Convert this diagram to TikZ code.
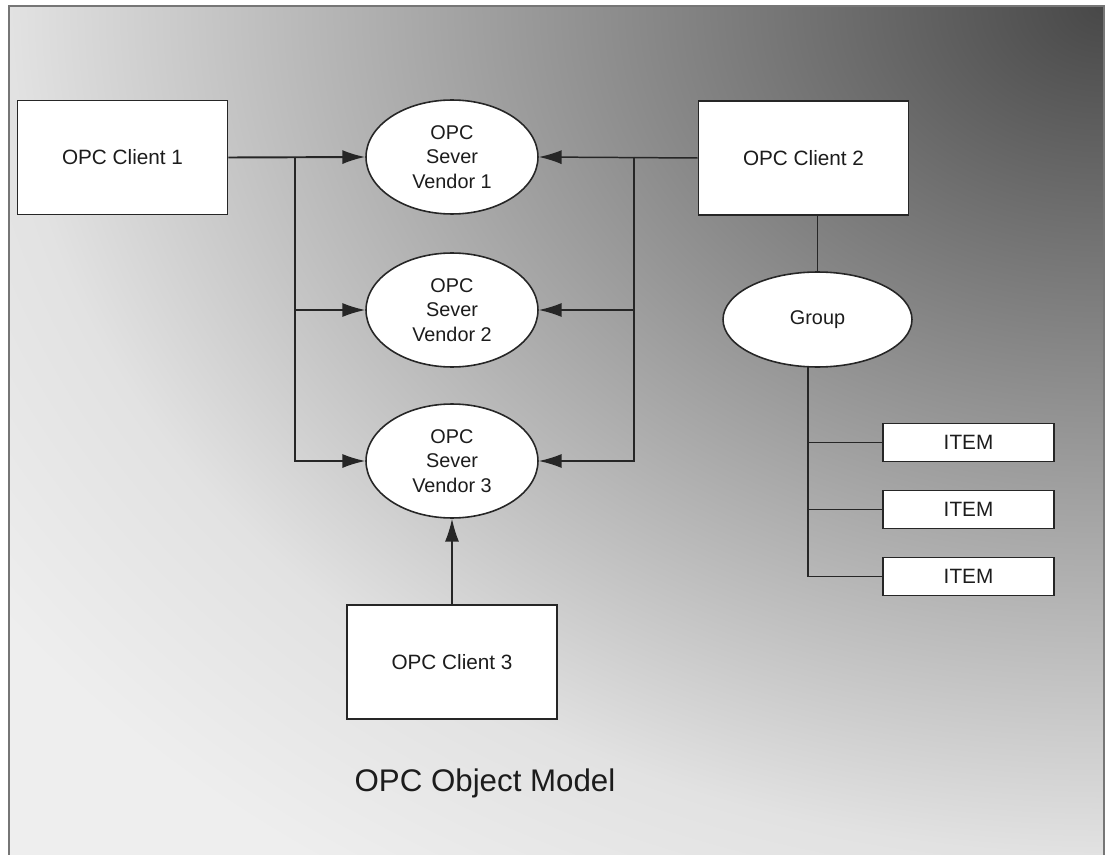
\documentclass[tikz,border=0pt]{standalone}
\usepackage{fontspec}
\setmainfont{Liberation Sans}
\usetikzlibrary{arrows.meta, shapes.geometric}
\definecolor{bgdark}{RGB}{72, 72, 72}
\definecolor{bglight}{RGB}{226, 226, 226}
\definecolor{bgpale}{RGB}{238, 238, 238}
\definecolor{framegray}{RGB}{118, 118, 118}
\definecolor{linegray}{RGB}{38, 38, 38}
\definecolor{textgray}{RGB}{28, 28, 28}
\pgfdeclareradialshading{opcbg}{\pgfpoint{0bp}{0bp}}{color(0bp)=(bgdark);
  color(12.5bp)=(bglight); color(15.5bp)=(bgpale); color(50bp)=(bgpale)}
\tikzset{
  clientbox/.style={draw=linegray, line width=1pt, fill=white,
    minimum width=4.2cm, minimum height=2.28cm, text=textgray,
    font=\fontsize{11.8}{14}\selectfont},
  serverell/.style={ellipse, draw=linegray, line width=0.9pt, fill=white,
    inner sep=0pt, minimum width=3.44cm, minimum height=2.28cm,
    align=center, text=textgray, font=\fontsize{11.3}{13.9}\selectfont},
  groupell/.style={serverell, minimum width=3.78cm, minimum height=1.9cm},
  itembox/.style={draw=linegray, line width=1pt, fill=white,
    minimum width=3.42cm, minimum height=0.76cm, inner sep=0pt,
    text=textgray, font=\fontsize{11.8}{14}\selectfont},
  link/.style={draw=linegray, line width=0.85pt},
  arrowlink/.style={link, -{Latex[length=13pt, width=8pt]}}
}

\begin{document}
\begin{tikzpicture}[x=0.02cm, y=-0.02cm]
  \useasboundingbox (0,0) rectangle (1110,855);
  \fill[white] (0,0) rectangle (1110,855);
  % shaded background, dark in the upper right corner
  \begin{scope}
    \clip (9,6) rectangle (1104,855);
    \shade[shading=opcbg] (1104,6) ellipse [x radius=43.8cm, y radius=33.96cm];
  \end{scope}
  \draw[framegray, line width=1.4pt] (9,855) -- (9,6) -- (1104,6) -- (1104,855);

  % clients
  \node[clientbox] (client1) at (122.5,157.5) {OPC Client 1};
  \node[clientbox] (client2) at (803.5,158) {OPC Client 2};
  \node[clientbox] (client3) at (452,662) {OPC Client 3};
  % servers
  \node[serverell] (sv1) at (452,157) {OPC\\Sever\\Vendor 1};
  \node[serverell] (sv2) at (452,310) {OPC\\Sever\\Vendor 2};
  \node[serverell] (sv3) at (452,461) {OPC\\Sever\\Vendor 3};
  % group and items
  \node[groupell] (group) at (817.5,319.5) {Group};
  \node[itembox] (item1) at (968.5,442.5) {ITEM};
  \node[itembox] (item2) at (968.5,509.5) {ITEM};
  \node[itembox] (item3) at (968.5,576.5) {ITEM};

  % client 1 to the servers
  \coordinate (lbus) at (295,157);
  \draw[arrowlink, line width=1.1pt] (client1.east) -- (sv1.west);
  \draw[arrowlink] (lbus) |- (sv3.west);
  \draw[arrowlink] (lbus |- sv2.west) -- (sv2.west);
  % client 2 to the servers
  \coordinate (rbus) at (634,157);
  \draw[arrowlink] (client2.west) -- (sv1.east);
  \draw[arrowlink] (rbus) |- (sv3.east);
  \draw[arrowlink] (rbus |- sv2.east) -- (sv2.east);
  % client 3
  \draw[arrowlink] (client3.north) -- (sv3.south);
  % group tree
  \draw[link, line width=1.1pt] (client2.south -| group.north) -- (group.north);
  \coordinate (gbus) at (808,367);
  \draw[link, line width=1.1pt] (gbus) |- (item3.west);
  \foreach \it in {item1, item2}
    \draw[link] (gbus |- \it.west) -- (\it.west);

  \node[text=textgray, font=\fontsize{17.8}{20}\selectfont] (title) at (485,783)
    {OPC Object Model};
\end{tikzpicture}
\end{document}
